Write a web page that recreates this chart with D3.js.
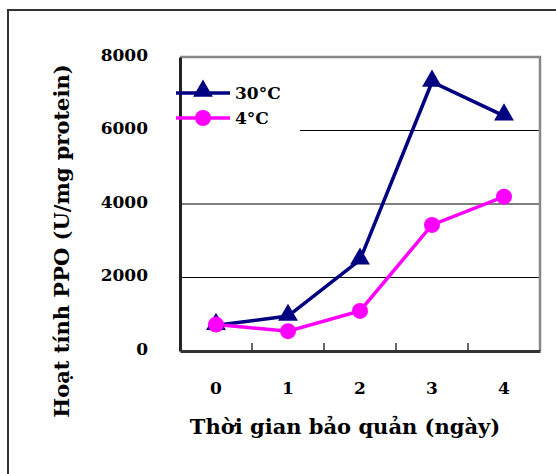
<!DOCTYPE html>
<html>
<head>
<meta charset="utf-8">
<script src="https://cdn.jsdelivr.net/npm/d3@7"></script>
<style>
body { margin: 0; background: #fff; }
text { font-family: "DejaVu Serif", serif; font-weight: bold; fill: #000; }
</style>
</head>
<body>
<div id="chart"></div>
<script>
var days = ["0", "1", "2", "3", "4"];
var hot = [700, 950, 2480, 7320, 6400];    // 30°C
var cold = [720, 540, 1090, 3430, 4200];   // 4°C
var yTicks = [0, 2000, 4000, 6000, 8000];

var W = 556, H = 474;
var margin = { top: 57, right: 16, bottom: 123, left: 180 };
var w = W - margin.left - margin.right;
var h = H - margin.top - margin.bottom;

var svg = d3.select("#chart").append("svg")
    .attr("width", W)
    .attr("height", H);

// outer frame (cut off at right/bottom)
svg.append("rect")
    .attr("x", 8).attr("y", 10)
    .attr("width", 600).attr("height", 600)
    .attr("fill", "none")
    .attr("stroke", "#333")
    .attr("stroke-width", 2);

var g = svg.append("g")
    .attr("transform", "translate(" + margin.left + "," + margin.top + ")");

var x = d3.scaleBand().domain(days).range([0, w]);
var y = d3.scaleLinear().domain([0, 8000]).range([h, 0]);

// gridlines
g.append("g")
    .selectAll("line")
    .data(yTicks.filter(function(d) { return d > 0 && d < 8000; }))
    .enter().append("line")
    .attr("x1", 0).attr("x2", w)
    .attr("y1", function(d) { return y(d); })
    .attr("y2", function(d) { return y(d); })
    .attr("stroke", "#000")
    .attr("stroke-width", 1);

// top and right borders
g.append("path")
    .attr("d", "M0,0H" + w + "V" + h)
    .attr("fill", "none")
    .attr("stroke", "#888")
    .attr("stroke-width", 2.5);

// y axis
var yAxis = g.append("g")
    .call(d3.axisLeft(y).tickValues(yTicks).tickSize(0).tickPadding(32).tickFormat(d3.format("d")));
yAxis.select(".domain").attr("stroke", "#222").attr("stroke-width", 3);
yAxis.selectAll("text").style("font-size", "17px").style("font-family", "DejaVu Serif").attr("dy", "0.2em");

// x axis with inner ticks between categories
var xAxis = g.append("g")
    .attr("transform", "translate(0," + h + ")")
    .call(d3.axisBottom(x).tickSize(0).tickPadding(31));
xAxis.select(".domain").attr("stroke", "#333").attr("stroke-width", 3);
xAxis.selectAll("text").style("font-size", "17px").style("font-family", "DejaVu Serif");

g.append("g").selectAll("line")
    .data(days.slice(1))
    .enter().append("line")
    .attr("x1", function(d) { return x(d); })
    .attr("x2", function(d) { return x(d); })
    .attr("y1", h).attr("y2", h - 8)
    .attr("stroke", "#333")
    .attr("stroke-width", 1.5);

// legend background (covers grid)
g.append("rect")
    .attr("x", 2).attr("y", 2)
    .attr("width", 118).attr("height", 72)
    .attr("fill", "#fff");

var line = d3.line()
    .x(function(d, i) { return x(days[i]) + x.bandwidth() / 2; })
    .y(function(d) { return y(d); });

var tri = d3.symbol().type(d3.symbolTriangle).size(170);

g.append("path").datum(hot)
    .attr("d", line)
    .attr("fill", "none")
    .attr("stroke", "#000080")
    .attr("stroke-width", 3.5);

g.append("path").datum(cold)
    .attr("d", line)
    .attr("fill", "none")
    .attr("stroke", "#ff00ff")
    .attr("stroke-width", 3.5);

g.selectAll(".hot").data(hot).enter().append("path")
    .attr("class", "hot")
    .attr("transform", function(d, i) { return "translate(" + (x(days[i]) + x.bandwidth() / 2) + "," + (y(d) - 1) + ")"; })
    .attr("d", tri)
    .attr("fill", "#000080");

g.selectAll(".cold").data(cold).enter().append("circle")
    .attr("class", "cold")
    .attr("cx", function(d, i) { return x(days[i]) + x.bandwidth() / 2; })
    .attr("cy", function(d) { return y(d); })
    .attr("r", 8)
    .attr("fill", "#ff00ff");

// legend
var legend = [
    { label: "30°C", color: "#000080", shape: "tri" },
    { label: "4°C", color: "#ff00ff", shape: "circle" }
];
var lg = g.selectAll(".leg").data(legend).enter().append("g")
    .attr("class", "leg")
    .attr("transform", function(d, i) { return "translate(0," + (36 + i * 25) + ")"; });
lg.append("line")
    .attr("x1", -4).attr("x2", 50)
    .attr("stroke", function(d) { return d.color; })
    .attr("stroke-width", 3.5);
lg.each(function(d) {
    var s = d3.select(this);
    if (d.shape == "tri") {
        s.append("path").attr("d", tri).attr("transform", "translate(23,-2)").attr("fill", d.color);
    } else {
        s.append("circle").attr("cx", 23).attr("r", 8).attr("fill", d.color);
    }
});
lg.append("text")
    .attr("x", 55).attr("dy", "0.35em")
    .style("font-size", "17px")
    .text(function(d) { return d.label; });

// axis titles
svg.append("text")
    .attr("transform", "translate(69," + 241 + ") rotate(-90)")
    .attr("text-anchor", "middle")
    .style("font-size", "21px")
    .text("Hoạt tính PPO (U/mg protein)");

svg.append("text")
    .attr("x", 345).attr("y", 434)
    .attr("text-anchor", "middle")
    .style("font-size", "21px")
    .text("Thời gian bảo quản (ngày)");
</script>
</body>
</html>
